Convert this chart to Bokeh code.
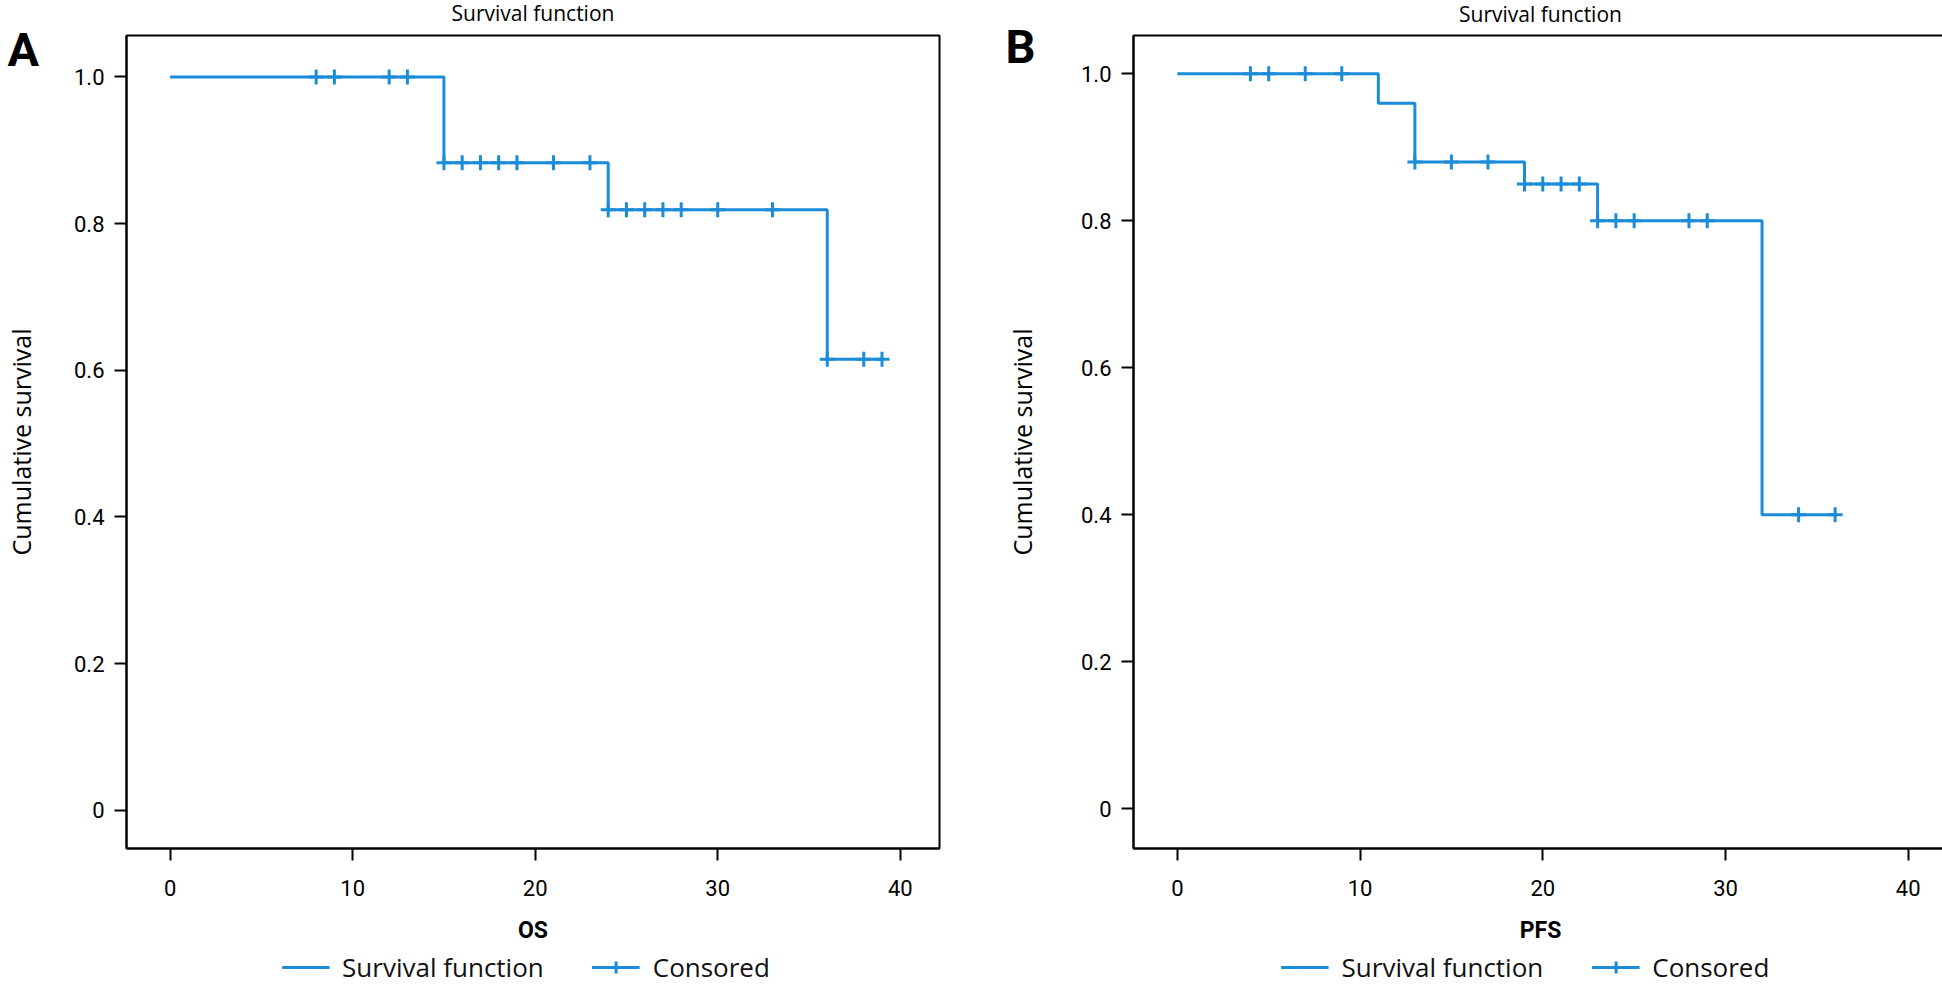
from bokeh.plotting import figure
from bokeh.layouts import row, column
from bokeh.models import FixedTicker, Label, Legend, LegendItem, Range1d
from bokeh.embed import file_html
from bokeh.resources import INLINE

# ---------------- data ----------------
x_ticks = [0, 10, 20, 30, 40]
y_ticks = [0, 0.2, 0.4, 0.6, 0.8, 1.0]
y_tick_labels = ["0", "0.2", "0.4", "0.6", "0.8", "1.0"]
legend_labels = ["Survival function", "Consored"]

# Panel A: overall survival (OS)
os_times = [0, 15, 24, 36, 39]
os_surv = [1.0, 0.883, 0.819, 0.615, 0.615]
os_cens_t = [8, 9, 12, 13, 15, 16, 17, 18, 19, 21, 23, 24, 25, 26, 27, 28, 30, 33, 36, 38, 39]
os_cens_s = [1.0, 1.0, 1.0, 1.0,
             0.883, 0.883, 0.883, 0.883, 0.883, 0.883, 0.883,
             0.819, 0.819, 0.819, 0.819, 0.819, 0.819, 0.819,
             0.615, 0.615, 0.615]

# Panel B: progression-free survival (PFS)
pfs_times = [0, 11, 13, 19, 23, 32, 36]
pfs_surv = [1.0, 0.96, 0.88, 0.85, 0.80, 0.40, 0.40]
pfs_cens_t = [4, 5, 7, 9, 13, 15, 17, 19, 20, 21, 22, 23, 24, 25, 28, 29, 34, 36]
pfs_cens_s = [1.0, 1.0, 1.0, 1.0,
              0.88, 0.88, 0.88,
              0.85, 0.85, 0.85, 0.85,
              0.80, 0.80, 0.80, 0.80, 0.80,
              0.40, 0.40]

BLUE = "#1a8cd8"
TICKFONT = "Roboto"
SANS = "Open Sans"
FRAME_H = 813
LEG_H = 33


def style_line(p, times, surv, ct, cs, visible=True):
    r = p.step(times, surv, mode="after", line_color=BLUE, line_width=3, visible=visible)
    c = p.scatter(ct, cs, marker="cross", size=15, line_color=BLUE, line_width=3,
                  visible=visible)
    return r, c


def make_panel(xlabel, times, surv, ct, cs, fw, bl, br, bt, bb, xr, yr, ylab_standoff):
    p = figure(frame_width=fw, frame_height=FRAME_H, title=None,
               x_range=Range1d(*xr), y_range=Range1d(*yr),
               output_backend="svg", toolbar_location=None,
               min_border_left=bl, min_border_right=br,
               min_border_top=bt, min_border_bottom=bb)
    p.xgrid.visible = False
    p.ygrid.visible = False
    p.outline_line_color = "black"
    p.outline_line_width = 2
    p.outline_line_alpha = 1.0
    p.background_fill_color = "white"
    p.border_fill_color = "white"

    for ax in (p.xaxis[0], p.yaxis[0]):
        ax.axis_line_width = 2
        ax.axis_line_color = "black"
        ax.major_tick_out = 12
        ax.major_tick_in = 0
        ax.minor_tick_out = 0
        ax.minor_tick_in = 0
        ax.major_tick_line_width = 2
        ax.major_tick_line_color = "black"
        ax.major_label_text_font = TICKFONT
        ax.major_label_text_font_size = "22px"
        ax.major_label_text_color = "black"
        ax.axis_label_text_color = "black"

    p.xaxis.ticker = FixedTicker(ticks=x_ticks)
    p.xaxis.major_label_standoff = 19
    p.xaxis.axis_label = xlabel
    p.xaxis.axis_label_text_font = TICKFONT
    p.xaxis.axis_label_text_font_style = "bold"
    p.xaxis.axis_label_text_font_size = "23px"
    p.xaxis.axis_label_standoff = 18

    p.yaxis.ticker = FixedTicker(ticks=y_ticks)
    p.yaxis.major_label_overrides = dict(zip(y_ticks, y_tick_labels))
    p.yaxis.major_label_standoff = 10
    p.yaxis.axis_label = "Cumulative survival"
    p.yaxis.axis_label_text_font = SANS
    p.yaxis.axis_label_text_font_style = "normal"
    p.yaxis.axis_label_text_font_size = "25px"
    p.yaxis.axis_label_standoff = ylab_standoff

    style_line(p, times, surv, ct, cs)

    # chart title, in the panel above the frame
    p.add_layout(Label(x=fw / 2, y=bt - 12, x_units="screen", y_units="screen",
                       text="Survival function", text_align="center", text_baseline="alphabetic",
                       text_font=SANS, text_font_size="21px", text_color="black"), "above")
    return p


def make_legend(fw, bl, br, times, surv, ct, cs):
    # a strip under each chart that carries its legend; the keys come from
    # hidden copies of the chart's own step line and censor marks
    q = figure(frame_width=fw, frame_height=LEG_H, title=None,
               output_backend="svg", toolbar_location=None,
               x_axis_location=None, y_axis_location=None,
               min_border_left=bl, min_border_right=br, min_border_top=0, min_border_bottom=0)
    q.grid.visible = False
    q.outline_line_color = None
    q.background_fill_color = "white"
    q.border_fill_color = "white"
    r, c = style_line(q, times, surv, ct, cs, visible=False)
    legend = Legend(items=[LegendItem(label=legend_labels[0], renderers=[r]),
                           LegendItem(label=legend_labels[1], renderers=[r, c])],
                    orientation="horizontal", location="center",
                    border_line_color=None, background_fill_alpha=0,
                    inactive_fill_alpha=0,
                    glyph_width=48, glyph_height=30, label_height=30,
                    label_text_font=SANS, label_text_font_size="26px",
                    label_text_color="#111111",
                    label_standoff=13, spacing=48, padding=0, margin=0)
    q.add_layout(legend, "center")
    return q


def panel_letter(text, x, y):
    return Label(x=x, y=y, x_units="screen", y_units="screen",
                 text=text, text_align="left", text_baseline="alphabetic",
                 text_font="Roboto", text_font_style="bold", text_font_size="47px",
                 text_color="black")


TOP_A, TOP_B = 35, 34
pa = make_panel("OS", os_times, os_surv, os_cens_t, os_cens_s,
                fw=813, bl=119, br=32, bt=TOP_A, bb=983 - TOP_A - FRAME_H - LEG_H,
                xr=(-2.39, 42.15), yr=(-0.0522, 1.0565), ylab_standoff=33)
pb = make_panel("PFS", pfs_times, pfs_surv, pfs_cens_t, pfs_cens_s,
                fw=814, bl=154, br=2, bt=TOP_B, bb=983 - TOP_B - FRAME_H - LEG_H,
                xr=(-2.40, 42.15), yr=(-0.0544, 1.0521), ylab_standoff=39)

# panel letters: A drawn from the right-hand side panel of A, B from the outer left panel of B
pa.add_layout(panel_letter("A", -932, 799), "right")
pb.add_layout(panel_letter("B", 34, 802), "left")

la = make_legend(813, 119, 32, os_times, os_surv, os_cens_t, os_cens_s)
lb = make_legend(814, 154, 2, pfs_times, pfs_surv, pfs_cens_t, pfs_cens_s)

layout = column(row(pa, pb), row(la, lb))
open("out.html", "w").write(file_html(layout, INLINE))
